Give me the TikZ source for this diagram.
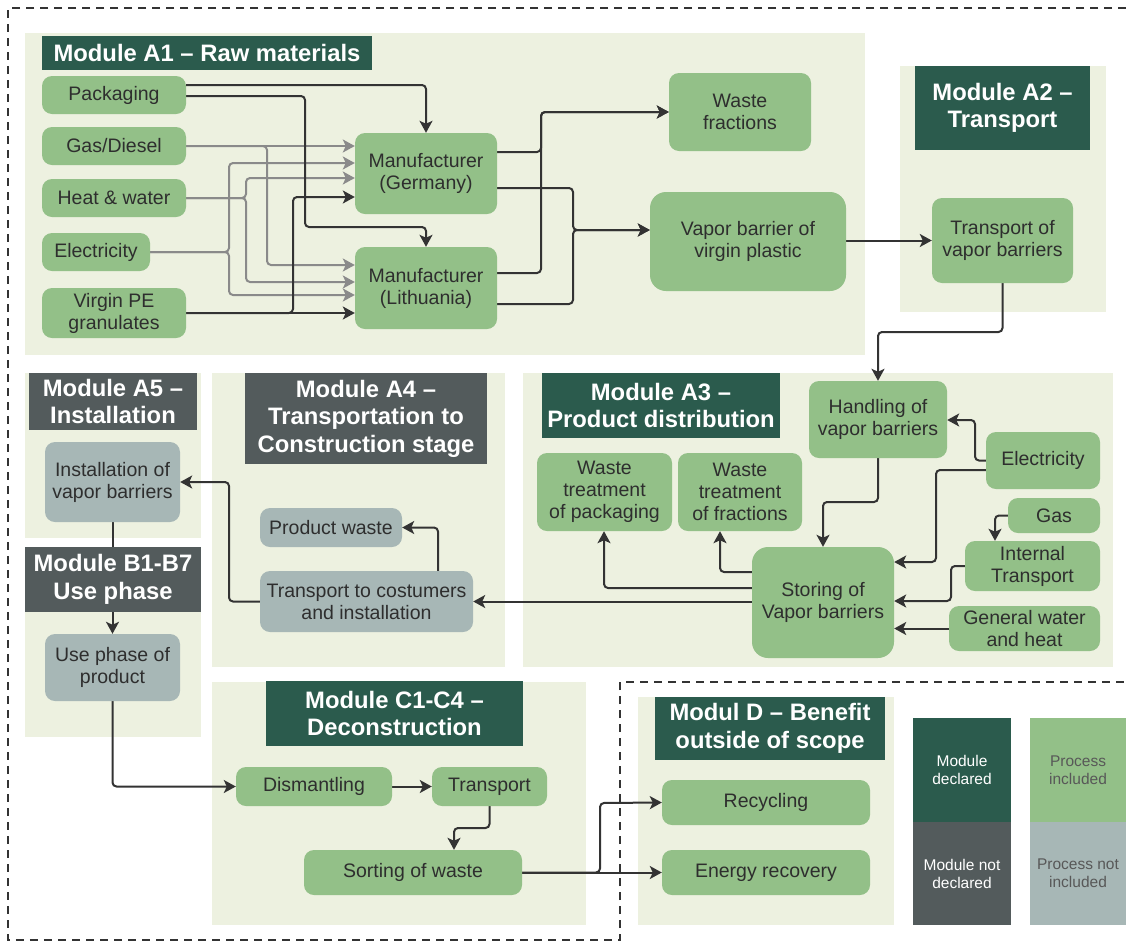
\documentclass[tikz,border=0pt]{standalone}
\usepackage{fontspec}
\setmainfont{Liberation Sans}
\usetikzlibrary{arrows.meta}
\definecolor{panelbg}{HTML}{EDF1E0}
\definecolor{dgreen}{HTML}{2B5B4D}
\definecolor{dgrey}{HTML}{535B5C}
\definecolor{pgreen}{HTML}{93C088}
\definecolor{pgrey}{HTML}{A7B7B6}
\definecolor{txt}{HTML}{2E2E2E}
\definecolor{arrdark}{HTML}{333333}
\definecolor{arrgray}{HTML}{8A8A8A}
\pgfdeclarelayer{bg}
\pgfdeclarelayer{edges}
\pgfsetlayers{bg,edges,main}
\newcommand\bx[7]{\node[#6, minimum width={#4pt-#2pt}, minimum height={#5pt-#3pt}] (#1) at ({(#2+#4)/2},{(#3+#5)/2}) {#7};}
\begin{document}
\begin{tikzpicture}[x=1pt,y=-1pt,
  panel/.style={fill=panelbg},
  titleD/.style={fill=dgreen, text=white, align=center, inner sep=0pt, font=\fontsize{23.8}{27.5}\selectfont\bfseries},
  titleG/.style={titleD, fill=dgrey},
  proc/.style={fill=pgreen, text=txt, rounded corners=10pt, align=center, inner sep=0pt, font=\fontsize{19.5}{22}\selectfont},
  procbig/.style={proc, rounded corners=16pt},
  procG/.style={proc, fill=pgrey},
  legD/.style={fill=dgreen, text=white, align=center, inner sep=0pt, font=\fontsize{15.5}{18}\selectfont},
  legG/.style={legD, fill=dgrey},
  legP/.style={legD, fill=pgreen, text=txt!80!white},
  legQ/.style={legD, fill=pgrey, text=txt!80!white},
  arr/.style={draw=arrdark, line width=2pt, rounded corners=4pt, -{Stealth[length=12pt,width=13pt,inset=3pt]}},
  garr/.style={arr, draw=arrgray},
  border/.style={draw=arrdark, line width=1.4pt, dash pattern=on 8pt off 6pt}
]
\useasboundingbox (0,0) rectangle (1126,943);
\begin{pgfonlayer}{bg}
\fill[white] (0,0) rectangle (1126,943);
\fill[panel] (25,33) rectangle (865,355);
\fill[panel] (900,66) rectangle (1106,312);
\fill[panel] (523,373) rectangle (1113,667);
\fill[panel] (212,373) rectangle (505,667);
\fill[panel] (25,373) rectangle (201,538);
\fill[panel] (25,547) rectangle (201,737);
\fill[panel] (212,682) rectangle (586,925);
\fill[panel] (638,697) rectangle (894,925);
\draw[border] (1126,8) -- (8,8) -- (8,940) -- (620,940) -- (620,682) -- (1126,682);
\end{pgfonlayer}

% Module A1
\bx{tA1}{42}{36}{372}{70}{titleD}{Module A1 \textendash{} Raw materials}
\bx{pack}{42}{76}{186}{114}{proc}{Packaging}
\bx{gasd}{42}{127}{186}{165}{proc}{Gas/Diesel}
\bx{heat}{42}{179}{186}{217}{proc}{Heat \& water}
\bx{elec}{42}{233}{150}{271}{proc}{Electricity}
\bx{pe}{42}{288}{186}{338}{proc}{Virgin PE\\granulates}
\bx{mg}{355}{133}{497}{214}{proc}{Manufacturer\\(Germany)}
\bx{ml}{355}{247}{497}{329}{proc}{Manufacturer\\(Lithuania)}
\bx{wf}{669}{73}{811}{151}{proc}{Waste\\fractions}
\bx{vb}{650}{192}{846}{291}{procbig}{Vapor barrier of\\virgin plastic}

% Module A2
\bx{tA2}{915}{66}{1090}{150}{titleD}{Module A2 \textendash\\Transport}
\bx{tr}{932}{198}{1073}{283}{proc}{Transport of\\vapor barriers}

% Module A3
\bx{tA3}{542}{373}{780}{438}{titleD}{Module A3 \textendash\\Product distribution}
\bx{hd}{809}{381}{947}{458}{proc}{Handling of\\vapor barriers}
\bx{elA}{986}{432}{1100}{489}{proc}{Electricity}
\bx{gasA}{1008}{498}{1100}{533}{proc}{Gas}
\bx{it}{965}{541}{1100}{591}{proc}{Internal\\Transport}
\bx{gw}{949}{606}{1100}{651}{proc}{General water\\and heat}
\bx{st}{752}{547}{894}{658}{procbig}{Storing of\\Vapor barriers}
\bx{wtp}{537}{453}{672}{531}{proc}{Waste\\treatment\\of packaging}
\bx{wtf}{678}{453}{802}{531}{proc}{Waste\\treatment\\of fractions}

% Module A4
\bx{tA4}{245}{373}{487}{464}{titleG}{Module A4 \textendash\\Transportation to\\Construction stage}
\bx{pw}{260}{508}{402}{547}{procG}{Product waste}
\bx{tc}{260}{571}{473}{632}{procG}{Transport to costumers\\and installation}

% Module A5
\bx{tA5}{29}{373}{197}{430}{titleG}{Module A5 \textendash\\Installation}
\bx{inst}{45}{442}{180}{522}{procG}{Installation of\\vapor barriers}

% Module B
\bx{tB}{25}{547}{201}{612}{titleG}{Module B1-B7\\Use phase}
\bx{up}{45}{634}{180}{701}{procG}{Use phase of\\product}

% Module C
\bx{tC}{266}{681}{523}{746}{titleD}{Module C1-C4 \textendash\\Deconstruction}
\bx{dis}{236}{767}{392}{806}{proc}{Dismantling}
\bx{tp}{432}{767}{547}{806}{proc}{Transport}
\bx{so}{304}{850}{522}{895}{proc}{Sorting of waste}

% Module D
\bx{tD}{655}{697}{885}{760}{titleD}{Modul D \textendash{} Benefit\\outside of scope}
\bx{rec}{662}{780}{870}{825}{proc}{Recycling}
\bx{en}{662}{850}{870}{895}{proc}{Energy recovery}

% Legend
\bx{lg1}{913}{718}{1011}{822}{legD}{Module\\declared}
\bx{lg2}{913}{822}{1011}{925}{legG}{Module not\\declared}
\bx{lg3}{1030}{718}{1126}{822}{legP}{Process\\included}
\bx{lg4}{1030}{822}{1126}{925}{legQ}{Process not\\included}

\begin{pgfonlayer}{edges}
% A1 gray inputs
\draw[garr] (gasd.east) -- (mg.west |- gasd.east);
\draw[garr] (gasd.east) -| (267,265) -- (ml.west |- 0,265);
\draw[garr] (heat.east) -| (246,178) -- (mg.west |- 0,178);
\draw[garr] (heat.east) -| (246,282) -- (ml.west |- 0,282);
\draw[garr] (elec.east) -| (229,163) -- (mg.west |- 0,163);
\draw[garr] (elec.east) -| (229,295) -- (ml.west |- 0,295);
% A1 dark inputs
\draw[arr] (pack.east |- 0,85) -| (mg.north);
\draw[arr] (pack.east |- 0,96) -| (305,227) -| (ml.north);
\draw[arr] (pe.east) -- (ml.west |- pe.east);
\draw[arr] (pe.east) -| (293,197) -- (mg.west |- 0,197);
% outputs
\draw[arr] (mg.east |- 0,152) -| (541,112) -- (wf.west);
\draw[arr] (ml.east |- 0,273) -| (541,112) -- (wf.west);
\draw[arr] (mg.east |- 0,188) -| (573,230) -- (vb.west |- 0,230);
\draw[arr] (ml.east |- 0,304) -| (573,230) -- (vb.west |- 0,230);
\draw[arr] (vb.east |- tr.west) -- (tr.west);
\draw[arr] (tr.south) |- (hd.north |- 0,332) -- (hd.north);
% A3
\draw[arr] (hd.south) |- (st.north |- 0,502) -- (st.north);
\draw[arr] (elA.west) -| (975,420) -- (hd.east |- 0,420);
\draw[arr] (elA.west |- 0,470) -| (936,562) -- (st.east |- 0,562);
\draw[arr] (gasA.west) -| (it.north -| 995,0);
\draw[arr] (it.west) -| (951,601) -- (st.east |- 0,601);
\draw[arr] (gw.west) -- (st.east |- gw.west);
\draw[arr] (st.west |- 0,572) -| (wtf.south -| 720,0);
\draw[arr] (st.west |- 0,588) -| (wtp.south -| 604,0);
\draw[arr] (st.west |- tc.east) -- (tc.east);
% A4 / A5 / B
\draw[arr] (tc.north -| 438,0) |- (pw.east);
\draw[arr] (tc.west) -| (229,482) -- (inst.east);
\draw[arr] (inst.south) -- (up.north);
\draw[arr] (up.south) |- (dis.west);
% C / D
\draw[arr] (dis.east) -- (tp.west);
\draw[arr] (tp.south) |- (454,828) -- (so.north -| 454,0);
\draw[arr] (so.east) -| (600,803) -- (rec.west);
\draw[arr] (so.east) -- (en.west);
\end{pgfonlayer}
\end{tikzpicture}
\end{document}
